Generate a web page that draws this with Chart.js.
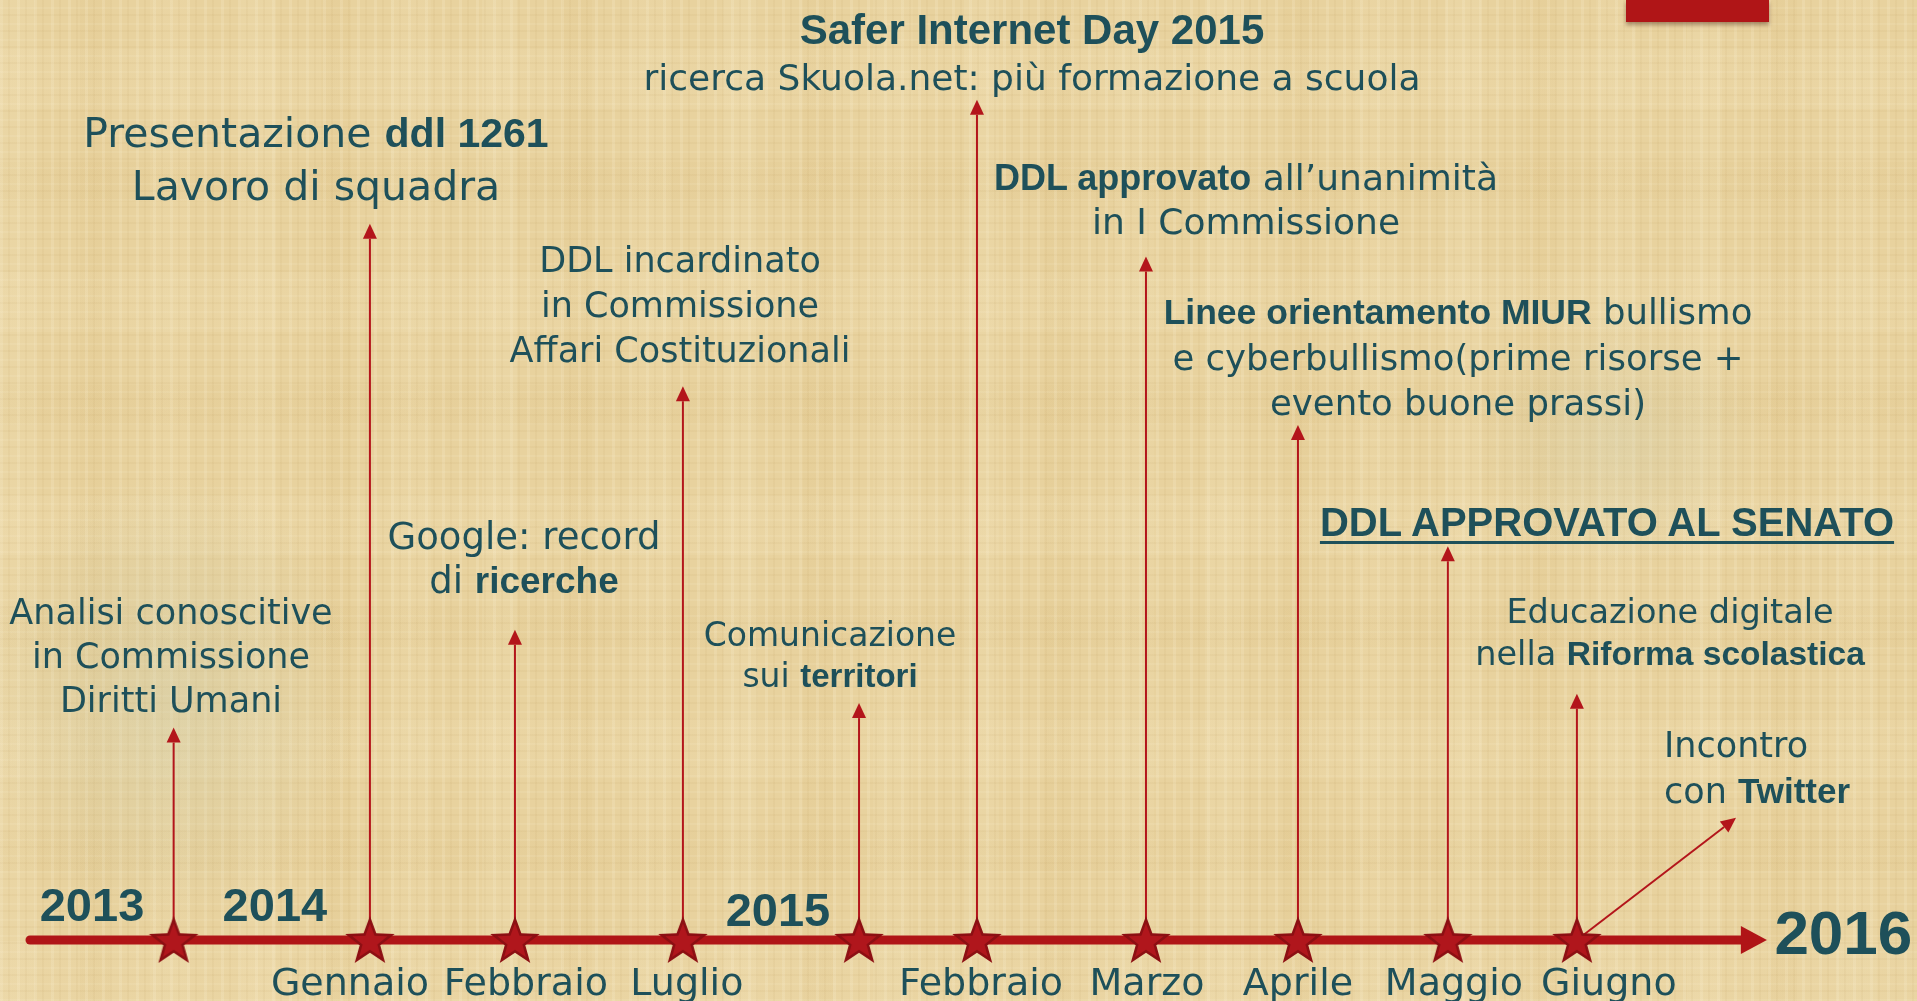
<!DOCTYPE html>
<html lang="it">
<head>
<meta charset="utf-8">
<title>Percorso ddl cyberbullismo</title>
<script src="https://cdn.jsdelivr.net/npm/chart.js@4.4.1/dist/chart.umd.min.js"></script>
<style>
html, body { margin: 0; padding: 0; }
body {
    width: 1917px; height: 1001px; overflow: hidden; position: relative;
    background-color: #e8d29e;
    background-image:
        radial-gradient(ellipse 190px 230px at 170px 700px, rgba(190,198,170,0.28), rgba(190,198,170,0) 100%),
        radial-gradient(ellipse 150px 130px at 1620px 440px, rgba(198,202,175,0.26), rgba(198,202,175,0) 100%),
        repeating-linear-gradient(90deg, rgba(255,247,222,0.16) 0 3px, rgba(0,0,0,0) 3px 8px, rgba(160,120,50,0.05) 8px 10px, rgba(0,0,0,0) 10px 17px),
        repeating-linear-gradient(0deg, rgba(255,247,222,0.10) 0 2px, rgba(0,0,0,0) 2px 9px, rgba(160,120,50,0.05) 9px 11px, rgba(0,0,0,0) 11px 16px),
        repeating-linear-gradient(90deg, rgba(255,245,215,0.10) 0 35px, rgba(0,0,0,0) 35px 80px, rgba(200,160,80,0.05) 80px 110px, rgba(0,0,0,0) 110px 150px, rgba(255,245,215,0.07) 150px 190px, rgba(0,0,0,0) 190px 241px),
        repeating-linear-gradient(0deg, rgba(255,245,215,0.08) 0 60px, rgba(0,0,0,0) 60px 130px, rgba(190,150,70,0.04) 130px 170px, rgba(0,0,0,0) 170px 223px);
}
#contenitore { position: absolute; left: 0; top: 0; width: 1917px; height: 1001px; z-index: 1; }
.banda { position: absolute; left: 1626px; top: 0; width: 143px; height: 22px; background: #b01517; box-shadow: 0 3px 4px rgba(60,20,0,0.4); z-index: 2; }
.t {
    position: absolute; z-index: 3; color: #1e505a;
    font-family: "DejaVu Sans", sans-serif; white-space: nowrap;
    text-align: center; transform: translateX(-50%);
}
.t b { font-family: "Liberation Sans", Arial, sans-serif; font-weight: bold; }
.mese { font-size: 38px; line-height: 44px; top: 960px; }
.anno { font-family: "Liberation Sans", Arial, sans-serif; font-weight: bold; }
</style>
</head>
<body>
<div id="contenitore"><canvas id="linea-tempo"></canvas></div>
<div class="banda"></div>

<div class="t" style="left:1032px; top:6px; font-size:42px; line-height:48px;"><b>Safer Internet Day 2015</b></div>
<div class="t" style="left:1032px; top:54px; font-size:36px; line-height:48px;">ricerca Skuola.net: più formazione a scuola</div>
<div class="t" style="left:316px; top:107px; font-size:41px; line-height:53px;">Presentazione <b>ddl 1261</b><br>Lavoro di squadra</div>
<div class="t" style="left:680px; top:238px; font-size:35px; line-height:45px;">DDL incardinato<br>in Commissione<br>Affari Costituzionali</div>
<div class="t" style="left:171px; top:590px; font-size:35px; line-height:44px;">Analisi conoscitive<br>in Commissione<br>Diritti Umani</div>
<div class="t" style="left:524px; top:515px; font-size:37px; line-height:44px;">Google: record<br>di <b>ricerche</b></div>
<div class="t" style="left:830px; top:614px; font-size:33px; line-height:41px;">Comunicazione<br>sui <b>territori</b></div>
<div class="t" style="left:1246px; top:156px; font-size:36px; line-height:44px;"><b>DDL approvato</b> all’unanimità<br>in I Commissione</div>
<div class="t" style="left:1458px; top:289px; font-size:35.5px; line-height:45px;"><b>Linee orientamento MIUR</b> bullismo<br>e cyberbullismo(prime risorse +<br>evento buone prassi)</div>
<div class="t" style="left:1607px; top:499px; font-size:40px; line-height:46px; text-decoration:underline; text-decoration-thickness:3px; text-underline-offset:5px;"><b>DDL APPROVATO AL SENATO</b></div>
<div class="t" style="left:1670px; top:591px; font-size:33.5px; line-height:42px;">Educazione digitale<br>nella <b>Riforma scolastica</b></div>
<div class="t" style="left:1664px; top:723px; font-size:35px; line-height:45px; text-align:left; transform:none;">Incontro<br>con <b>Twitter</b></div>

<script>
// eventi sulla linea del tempo (posizione 0 = inizio linea, 100 = punta della freccia)
const eventi = ['Analisi conoscitive', 'Presentazione ddl 1261', 'Google: record di ricerche', 'DDL incardinato',
    'Comunicazione sui territori', 'Safer Internet Day 2015', 'DDL approvato in I Commissione',
    'Linee orientamento MIUR', 'DDL approvato al Senato', 'Educazione digitale'];
const posizioni = [8.27, 19.57, 27.92, 37.59, 47.73, 54.52, 64.25, 73.0, 81.63, 89.06];
// altezza della freccia di ogni evento (0 = linea del tempo, 100 = bordo alto)
const altezze = [22.6, 76.2, 33.0, 58.9, 25.2, 89.4, 72.7, 54.8, 41.9, 26.2];
// freccia obliqua "Incontro con Twitter" che parte dall'ultima stella
const twitterDa = 89.06;
const twitterA = { x: 98.22, y: 13.0 };

const mesi = ['Gennaio', 'Febbraio', 'Luglio', 'Febbraio', 'Marzo', 'Aprile', 'Maggio', 'Giugno'];
const posMesi = [18.42, 28.55, 37.82, 54.75, 64.31, 73.0, 81.98, 90.9];
const anni = ['2013', '2014', '2015', '2016'];
const posAnni = [3.57, 14.1, 43.06, 104.4];

// solo impaginazione
const topAnni = [880, 880, 885, 900];
const dimAnni = [47, 47, 47, 62];
const rossoLinea = '#b01517';
const rossoFreccia = '#b3151b';
const fineLinea = 98.7;

let miGrafico;

function creaStella() {
    var c = document.createElement('canvas');
    c.width = 58; c.height = 58;
    var g = c.getContext('2d');
    function stella(R, r, colore) {
        g.beginPath();
        for (var i = 0; i < 10; i++) {
            var rad = i % 2 === 0 ? R : r;
            var a = -Math.PI / 2 + i * Math.PI / 5;
            g.lineTo(29 + Math.cos(a) * rad, 31 + Math.sin(a) * rad);
        }
        g.closePath();
        g.fillStyle = colore;
        g.fill();
    }
    stella(26, 10.8, '#8c0f13');
    stella(18.5, 7.8, '#b0161c');
    return c;
}

function freccia(c, x0, y0, x1, y1, lung, semi) {
    var a = Math.atan2(y1 - y0, x1 - x0);
    var bx = x1 - Math.cos(a) * lung, by = y1 - Math.sin(a) * lung;
    c.beginPath();
    c.moveTo(x0, y0);
    c.lineTo(bx, by);
    c.stroke();
    c.beginPath();
    c.moveTo(x1, y1);
    c.lineTo(bx - Math.sin(a) * semi, by + Math.cos(a) * semi);
    c.lineTo(bx + Math.sin(a) * semi, by - Math.cos(a) * semi);
    c.closePath();
    c.fill();
}

const pluginFrecce = {
    id: 'frecce',
    beforeDatasetsDraw(chart) {
        var c = chart.ctx, sx = chart.scales.x, sy = chart.scales.y;
        var y0 = sy.getPixelForValue(0);
        c.save();
        c.strokeStyle = rossoFreccia;
        c.fillStyle = rossoFreccia;
        c.lineWidth = 2;
        posizioni.forEach(function(p, i) {
            var x = sx.getPixelForValue(p);
            freccia(c, x, y0, x, sy.getPixelForValue(altezze[i]), 15, 7);
        });
        freccia(c, sx.getPixelForValue(twitterDa), y0,
            sx.getPixelForValue(twitterA.x), sy.getPixelForValue(twitterA.y), 15, 7);

        // punta della linea del tempo
        var xb = sx.getPixelForValue(98.5), xt = sx.getPixelForValue(100);
        c.fillStyle = rossoLinea;
        c.beginPath();
        c.moveTo(xt, y0);
        c.lineTo(xb, y0 - 14);
        c.lineTo(xb, y0 + 14);
        c.closePath();
        c.fill();
        c.restore();
    }
};

function disegnaEtichette() {
    var sx = miGrafico.scales.x;
    mesi.forEach(function(m, i) {
        var d = document.createElement('div');
        d.className = 't mese';
        d.textContent = m;
        d.style.left = sx.getPixelForValue(posMesi[i]) + 'px';
        document.body.appendChild(d);
    });
    anni.forEach(function(a, i) {
        var d = document.createElement('div');
        d.className = 't anno';
        d.textContent = a;
        d.style.left = sx.getPixelForValue(posAnni[i]) + 'px';
        d.style.top = topAnni[i] + 'px';
        d.style.fontSize = dimAnni[i] + 'px';
        d.style.lineHeight = Math.round(dimAnni[i] * 1.07) + 'px';
        document.body.appendChild(d);
    });
}

const ctx = document.getElementById('linea-tempo');
miGrafico = new Chart(ctx, {
    type: 'scatter',
    data: {
        datasets: [
            {
                type: 'line',
                label: 'linea del tempo',
                data: [{ x: 0, y: 0 }, { x: fineLinea, y: 0 }],
                borderColor: rossoLinea,
                borderWidth: 9,
                borderCapStyle: 'round',
                pointRadius: 0,
                order: 2
            },
            {
                label: 'eventi',
                data: posizioni.map(function(p) { return { x: p, y: 0 }; }),
                pointStyle: creaStella(),
                pointRadius: 26,
                order: 1
            }
        ]
    },
    options: {
        responsive: true,
        maintainAspectRatio: false,
        animation: false,
        events: [],
        layout: { padding: 0, autoPadding: false },
        plugins: { legend: { display: false }, tooltip: { enabled: false } },
        scales: {
            x: { type: 'linear', display: false, min: -1.727, max: 108.64 },
            y: { type: 'linear', display: false, min: -6.49, max: 100 }
        }
    },
    plugins: [pluginFrecce]
});

disegnaEtichette();
</script>
</body>
</html>
